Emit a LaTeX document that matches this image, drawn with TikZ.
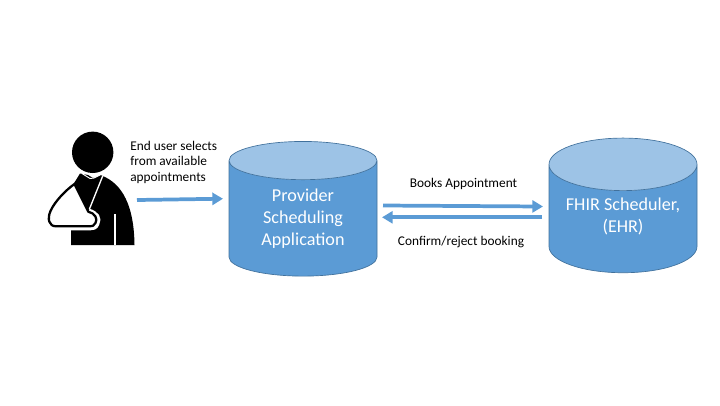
\documentclass[tikz,border=0pt]{standalone}
\usepackage{fontspec}
\setmainfont{Carlito}
\usepackage[HTML]{xcolor}
\usetikzlibrary{positioning, arrows.meta, shapes.geometric}
\definecolor{bodyblue}{HTML}{5B9BD5}
\definecolor{topblue}{HTML}{9DC3E6}
\definecolor{edgeblue}{HTML}{41719C}
\tikzset{
  store/.style={cylinder, shape border rotate=90, cylinder uses custom fill,
    cylinder body fill=bodyblue, cylinder end fill=topblue, draw=edgeblue, line width=0.5pt,
    aspect=0.46, minimum width=111pt, minimum height=101pt, inner sep=0pt,
    text=white, align=center, font=\fontsize{13.6}{16.5}\selectfont},
  flow/.style={draw=bodyblue, line width=2.8pt, -{Triangle[width=9pt,length=8pt]}},
  note/.style={align=left, inner sep=0pt, font=\fontsize{10}{11.8}\selectfont}
}
\begin{document}
\begin{tikzpicture}[x=0.75pt,y=-0.75pt]
\useasboundingbox (0,0) rectangle (720,405);
% person
\fill (92.7,152.3) circle (20.7);
\fill (71,245) -- (71,226) -- (60,205) -- (76,180) -- (80,173.5) -- (88,175) -- (93,178) -- (100.5,175) -- (102.7,176)
  .. controls (122,184) and (134,205) .. (134.5,245) -- cycle;
% halo round the sling
\draw[white, line width=1pt] (102.7,176) -- (89.3,209.3);
\draw[white, line width=2.8pt, line join=round] (89,210.5)
  .. controls (97,213) and (100.5,218) .. (97.5,224) .. controls (96,228) and (93,228.5) .. (90,228.5) -- (69,228.5);
\draw[white, line width=0.8pt] (115,214) -- (115,245);
% sling
\draw[line width=1.7pt, fill=white, line join=round] (74.5,184) -- (88.3,211.7)
  .. controls (95,213) and (98,219) .. (95.5,223) .. controls (94,226) and (92,226.3) .. (90,226.3) -- (56,226.3)
  .. controls (49,226.3) and (47,219) .. (50.5,211) .. controls (55,201) and (66,190) .. (74.5,184) -- cycle;
\draw[white, line width=0.7pt] (82,173.5) -- (90,178.5) -- (94,178) -- (101,174.5);
% stores
\node[store] (provider) at (303,218.5) {Provider\\Scheduling\\Application};
\node[store] (scheduler) at (623,218.7) {FHIR Scheduler,\\\rule[-5.5pt]{0pt}{0pt}(EHR)};
% labels
\node[note, anchor=north west] (selects) at (130,140.5) {End user selects\\from available\\appointments};
\node[note] (books) at (463.5,184) {Books Appointment};
\node[note] (confirm) at (461,242) {Confirm/reject booking};
% flows
\coordinate (userout) at (137,200);
\coordinate (userin) at (223,198.7);
\coordinate (booksout) at (383,205.5);
\coordinate (booksin) at (543,206.5);
\coordinate (rejectout) at (542,217.3);
\coordinate (rejectin) at (382,217.3);
\draw[flow] (userout) -- (userin);
\draw[flow] (booksout) -- (booksin);
\draw[flow] (rejectout) -- (rejectin);
\end{tikzpicture}
\end{document}
